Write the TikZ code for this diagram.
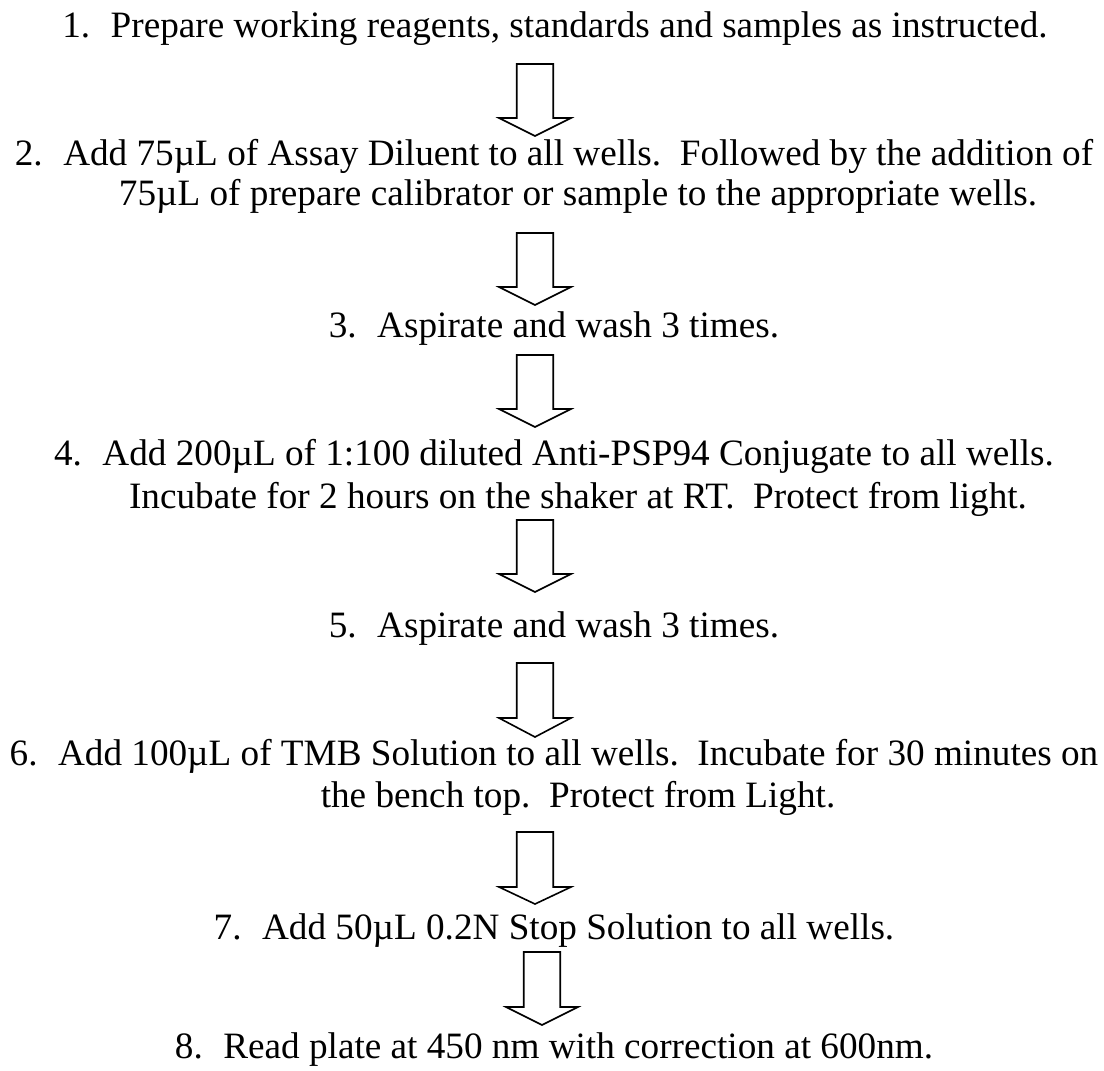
\documentclass[tikz,border=0pt]{standalone}
\usepackage{fontspec}
\setmainfont{Liberation Serif}
\begin{document}
\begin{tikzpicture}[x=0.5pt,y=-0.5pt,
  steptext/.style={anchor=base,inner sep=0pt,font=\fontsize{18.6}{21}\selectfont},
  arrowline/.style={draw=black,line width=0.8pt,fill=white,line join=miter},
  pics/blockarrow/.style n args={2}{code={
    \draw[arrowline] (-18.25,0) -- (-18.25,#1) -- (-36,#1) -- (0,#1+#2) -- (36,#1) -- (18.25,#1) -- (18.25,0) -- cycle;}}]
\useasboundingbox[fill=white] (0,0) rectangle (1104,1071);
\frenchspacing
\newcommand\tb{\hspace{0.55em}}
\node[steptext] (l1) at (555,37) {1.\tb Prepare working reagents, standards and samples as instructed.};
\node[steptext] (l2a) at (554,165) {2.\tb Add 75µL of Assay Diluent to all wells.\ \ Followed by the addition of};
\node[steptext] (l2b) at (578,205) {75µL of prepare calibrator or sample to the appropriate wells.};
\node[steptext] (l3) at (554,337) {3.\tb Aspirate and wash 3 times.};
\node[steptext] (l4a) at (554,465) {4.\tb Add 200µL of 1:100 diluted Anti-PSP94 Conjugate to all wells.};
\node[steptext] (l4b) at (578,508) {Incubate for 2 hours on the shaker at RT.\ \ Protect from light.};
\node[steptext] (l5) at (554,637) {5.\tb Aspirate and wash 3 times.};
\node[steptext] (l6a) at (554,765) {6.\tb Add 100µL of TMB Solution to all wells.\ \ Incubate for 30 minutes on};
\node[steptext] (l6b) at (578,807) {the bench top.\ \ Protect from Light.};
\node[steptext] (l7) at (554,939) {7.\tb Add 50µL 0.2N Stop Solution to all wells.};
\node[steptext] (l8) at (554,1058) {8.\tb Read plate at 450 nm with correction at 600nm.};
\pic (a1) at (535,64) {blockarrow={54}{18}};
\pic (a2) at (535,233) {blockarrow={54}{18}};
\pic (a3) at (535,355) {blockarrow={54}{18}};
\pic (a4) at (535,520) {blockarrow={54}{18}};
\pic (a5) at (535,663) {blockarrow={55}{19}};
\pic (a6) at (535,832) {blockarrow={55}{17}};
\pic (a7) at (542,952) {blockarrow={55}{18}};
\end{tikzpicture}
\end{document}
